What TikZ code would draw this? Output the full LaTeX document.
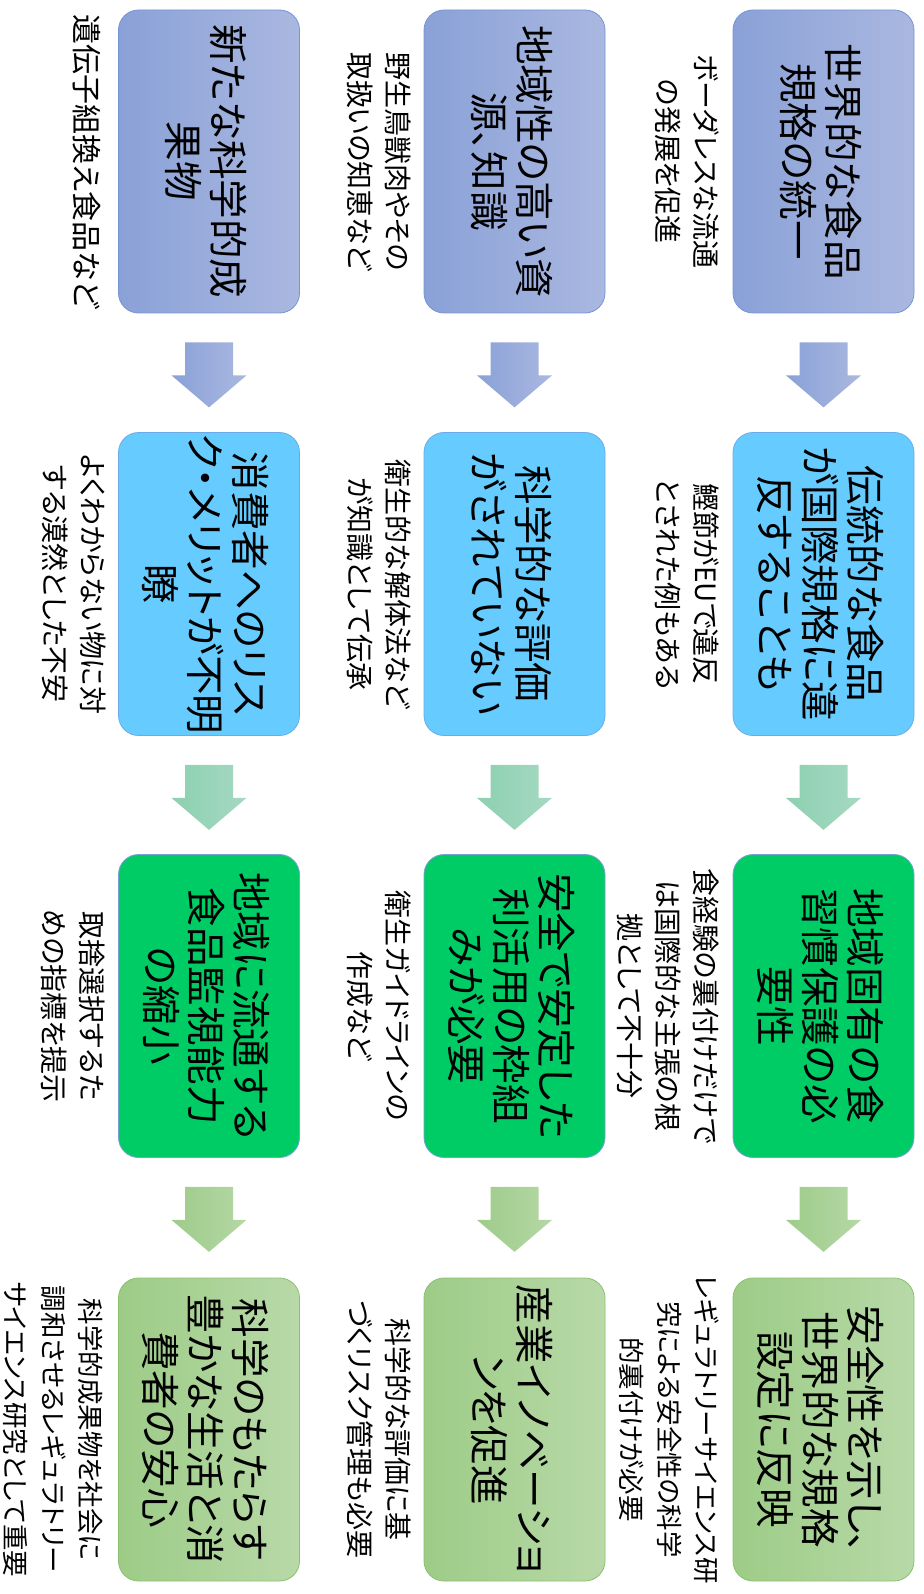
\documentclass[tikz,border=0pt]{standalone}
\usepackage{fontspec}
\newfontfamily\cjk[RawFeature=+palt]{Noto Sans CJK JP}
\usetikzlibrary{calc}
\definecolor{bAl}{RGB}{138,161,215}
\definecolor{bAr}{RGB}{170,184,224}
\definecolor{bAline}{RGB}{118,148,212}
\definecolor{bB}{RGB}{102,204,255}
\definecolor{bBline}{RGB}{110,170,230}
\definecolor{bC}{RGB}{0,204,102}
\definecolor{bCline}{RGB}{120,160,215}
\definecolor{bDl}{RGB}{157,204,135}
\definecolor{bDr}{RGB}{184,217,168}
\definecolor{bDline}{RGB}{140,192,112}
\definecolor{aBl}{RGB}{141,208,176}
\definecolor{aBr}{RGB}{165,217,194}
\definecolor{aCl}{RGB}{158,204,138}
\definecolor{aCr}{RGB}{181,215,165}
\newcommand\blkarrow[2]{%
  \shade[#2] ($(#1.south)+(-24,29)$) -- ++(48,0) -- ++(0,33) -- ++(13.5,0)
    -- ($(#1.south)+(0,94)$) -- ++(-37.5,-32) -- ++(13.5,0) -- cycle;}
\begin{document}
\begin{tikzpicture}[x=1pt,y=-1pt,
  box/.style={rounded corners=20pt, minimum width=181pt, minimum height=303pt, line width=0.8pt, inner sep=0pt},
  boxA/.style={box, draw=bAline, left color=bAl, right color=bAr},
  boxB/.style={box, draw=bBline, fill=bB},
  boxC/.style={box, draw=bCline, fill=bC},
  boxD/.style={box, draw=bDline, left color=bDl, right color=bDr},
  maintext/.style={rotate=-90, align=center, inner sep=0pt, font={\cjk\fontsize{39.5}{45}\selectfont}},
  subtext/.style={rotate=-90, align=center, inner sep=0pt, anchor=north, font={\cjk\fontsize{28}{38}\selectfont}},
  subsmall/.style={subtext, font={\cjk\fontsize{26.5}{37.5}\selectfont}},
  sublarge/.style={subtext, font={\cjk\fontsize{30}{38}\selectfont}},
  arrA/.style={left color=bAl, right color=bAr},
  arrB/.style={left color=aBl, right color=aBr},
  arrC/.style={left color=aCl, right color=aCr},
]
\useasboundingbox (0,0) rectangle (923,1594);
% boxes
\node[boxA] (r1) at (823.5,161.5) {};
\node[boxB] (r2) at (823.5,584) {};
\node[boxC] (r3) at (823.5,1006) {};
\node[boxD] (r4) at (823.5,1429.5) {};
\node[boxA] (m1) at (514.5,161.5) {};
\node[boxB] (m2) at (514.5,584) {};
\node[boxC] (m3) at (514.5,1006) {};
\node[boxD] (m4) at (514.5,1429.5) {};
\node[boxA] (l1) at (209,161.5) {};
\node[boxB] (l2) at (209,584) {};
\node[boxC] (l3) at (209,1006) {};
\node[boxD] (l4) at (209,1429.5) {};
% arrows
\blkarrow{r1}{arrA}
\blkarrow{r2}{arrB}
\blkarrow{r3}{arrC}
\blkarrow{m1}{arrA}
\blkarrow{m2}{arrB}
\blkarrow{m3}{arrC}
\blkarrow{l1}{arrA}
\blkarrow{l2}{arrB}
\blkarrow{l3}{arrC}
% main texts
\node[maintext] (r1t) at ($(r1.center)+(-3,0)$) {世界的な食品\\規格の統一};
\node[maintext] (r2t) at ($(r2.center)+(-3,0)$) {伝統的な食品\\が国際規格に違\\反することも};
\node[maintext] (r3t) at ($(r3.center)+(-3,0)$) {地域固有の食\\習慣保護の必\\要性};
\node[maintext] (r4t) at ($(r4.center)+(-3,0)$) {安全性を示し、\\世界的な規格\\設定に反映};
\node[maintext] (m1t) at ($(m1.center)+(-3,0)$) {地域性の高い資\\源、知識};
\node[maintext] (m2t) at ($(m2.center)+(-3,0)$) {科学的な評価\\がされていない};
\node[maintext] (m3t) at ($(m3.center)+(-3,0)$) {安全で安定した\\利活用の枠組\\みが必要};
\node[maintext] (m4t) at ($(m4.center)+(-3,0)$) {産業イノベーショ\\ンを促進};
\node[maintext] (l1t) at ($(l1.center)+(-3,0)$) {新たな科学的成\\果物};
\node[maintext] (l2t) at ($(l2.center)+(-3,0)$) {消費者へのリス\\ク・メリットが不明\\瞭};
\node[maintext] (l3t) at ($(l3.center)+(-3,0)$) {地域に流通する\\食品監視能力\\の縮小};
\node[maintext] (l4t) at ($(l4.center)+(-3,0)$) {科学のもたらす\\豊かな生活と消\\費者の安心};
% sub texts
\node[subtext] (r1s) at ($(r1.west)+(-13,0)$) {ボーダレスな流通\\の発展を促進};
\node[subtext] (r2s) at ($(r2.west)+(-13,0)$) {鰹節がEUで違反\\とされた例もある};
\node[subtext] (r3s) at ($(r3.west)+(-13,0)$) {食経験の裏付けだけで\\は国際的な主張の根\\拠として不十分};
\node[subsmall] (r4s) at ($(r4.west)+(-13,0)$) {レギュラトリーサイエンス研\\究による安全性の科学\\的裏付けが必要};
\node[subtext] (m1s) at ($(m1.west)+(-12,0)$) {野生鳥獣肉やその\\取扱いの知恵など};
\node[subtext] (m2s) at ($(m2.west)+(-12,0)$) {衛生的な解体法など\\が知識として伝承};
\node[subtext] (m3s) at ($(m3.west)+(-12,0)$) {衛生ガイドラインの\\作成など};
\node[subtext] (m4s) at ($(m4.west)+(-12,0)$) {科学的な評価に基\\づくリスク管理も必要};
\node[sublarge] (l1s) at ($(l1.west)+(-17,0)$) {遺伝子組換え食品など};
\node[subtext] (l2s) at ($(l2.west)+(-12,0)$) {よくわからない物に対\\する漠然とした不安};
\node[subtext] (l3s) at ($(l3.west)+(-13,0)$) {取捨選択するた\\めの指標を提示};
\node[subsmall] (l4s) at ($(l4.west)+(-15,0)$) {科学的成果物を社会に\\調和させるレギュラトリー\\サイエンス研究として重要};
\end{tikzpicture}
\end{document}
